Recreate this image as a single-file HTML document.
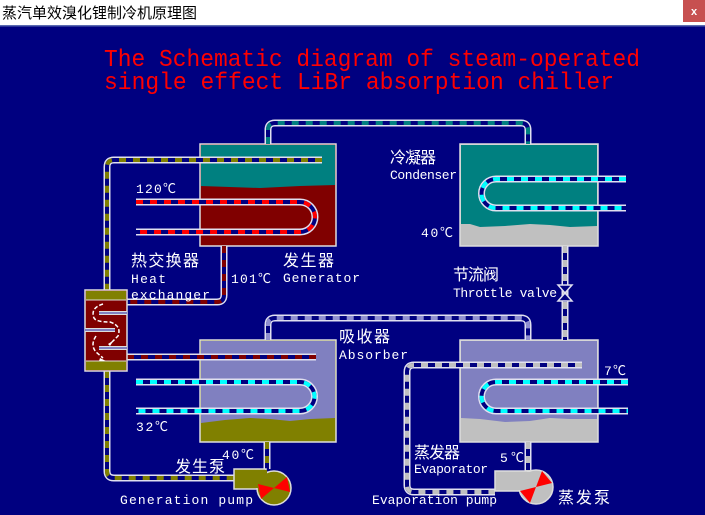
<!DOCTYPE html>
<html><head><meta charset="utf-8"><style>
html,body{margin:0;padding:0;width:705px;height:515px;overflow:hidden;background:#000080}
svg{display:block}
.t{font-family:"Liberation Mono","Noto Sans CJK SC",monospace;fill:#fff;font-size:13px}
.c{font-family:"Liberation Sans","Noto Sans CJK SC",sans-serif;fill:#fff;font-size:16px}
</style></head><body>
<svg width="705" height="515" viewBox="0 0 705 515" xmlns="http://www.w3.org/2000/svg">
<rect x="0" y="0" width="705" height="515" fill="#000080"/>
<rect x="0" y="0" width="705" height="26" fill="#fff"/>
<rect x="0" y="25" width="705" height="1.5" fill="#5a6ab0"/>
<text x="2" y="18" font-family="'Noto Sans CJK SC',sans-serif" font-size="15" fill="#000">蒸汽单效溴化锂制冷机原理图</text>
<rect x="683" y="0" width="22" height="22" fill="#c75050"/>
<text x="694" y="15" font-family="'Liberation Sans',sans-serif" font-size="11" font-weight="bold" fill="#fff" text-anchor="middle">x</text>
<g font-family="'Liberation Mono',monospace" font-size="24" fill="#ff0000">
<text x="104" y="66" textLength="536" lengthAdjust="spacingAndGlyphs">The Schematic diagram of steam-operated</text>
<text x="104" y="89" textLength="510" lengthAdjust="spacingAndGlyphs">single effect LiBr absorption chiller</text>
</g>

<rect x="200" y="144" width="136" height="102" fill="#800000" stroke="#ddd" stroke-width="1.5"/>
<path d="M201 145 H335 V185 L300 186 L260 188 L230 187 L201 186 Z" fill="#008080"/>
<rect x="460" y="144" width="138" height="102" fill="#c0c0c0" stroke="#ddd" stroke-width="1.5"/>
<path d="M461 145 H597 V226 L570 227 L550 225 L530 224 L505 226 L480 227 L470 224 L461 224 Z" fill="#008080"/>
<rect x="200" y="340" width="136" height="102" fill="#808000" stroke="#ddd" stroke-width="1.5"/>
<path d="M201 341 H335 V418 L310 419 L290 421 L270 419 L250 418 L225 420 L201 423 Z" fill="#8080c0"/>
<rect x="460" y="340" width="138" height="102" fill="#c0c0c0" stroke="#ddd" stroke-width="1.5"/>
<path d="M461 341 H597 V419 L570 419 L550 418 L530 421 L505 422 L480 419 L461 418 Z" fill="#8080c0"/>

<g fill="none" stroke-linecap="butt" stroke-linejoin="round">
<g stroke="#e0e0f0" stroke-width="7">
<path d="M268 144 V130 Q268 123 275 123 H521 Q528 123 528 130 V144"/>
<path d="M322 160 H114 Q107 160 107 167 V290"/>
<path d="M136 202 H300 A15 15 0 0 1 300 232 H136"/>
<path d="M224 246 V295 Q224 302 217 302 H127"/>
<path d="M127 357 H316"/>
<path d="M107 371 V471 Q107 478 114 478 H234"/>
<path d="M267 442 V469"/>
<path d="M136 382 H300 A14.5 14.5 0 0 1 300 411 H136"/>
<path d="M626 179 H496 A14.5 14.5 0 0 0 496 208 H626"/>
<path d="M565 246 V340"/>
<path d="M268 340 V325 Q268 318 275 318 H521 Q528 318 528 325 V340"/>
<path d="M582 365 H414 Q407 365 407 372 V485 Q407 492 414 492 H495"/>
<path d="M528 442 V471"/>
<path d="M628 382 H496 A14.5 14.5 0 0 0 496 411 H628"/>
</g>
<g stroke="#000080" stroke-width="4">
<path d="M268 144 V130 Q268 123 275 123 H521 Q528 123 528 130 V144"/>
<path d="M322 160 H114 Q107 160 107 167 V290"/>
<path d="M136 202 H300 A15 15 0 0 1 300 232 H136"/>
<path d="M224 246 V295 Q224 302 217 302 H127"/>
<path d="M127 357 H316"/>
<path d="M107 371 V471 Q107 478 114 478 H234"/>
<path d="M267 442 V469"/>
<path d="M136 382 H300 A14.5 14.5 0 0 1 300 411 H136"/>
<path d="M626 179 H496 A14.5 14.5 0 0 0 496 208 H626"/>
<path d="M565 246 V340"/>
<path d="M268 340 V325 Q268 318 275 318 H521 Q528 318 528 325 V340"/>
<path d="M582 365 H414 Q407 365 407 372 V485 Q407 492 414 492 H495"/>
<path d="M528 442 V471"/>
<path d="M628 382 H496 A14.5 14.5 0 0 0 496 411 H628"/>
</g>
<g stroke-width="4" stroke-dasharray="7 7">
<path stroke="#008080" d="M268 144 V130 Q268 123 275 123 H521 Q528 123 528 130 V144"/>
<path stroke="#808000" d="M322 160 H114 Q107 160 107 167 V290"/>
<path stroke="#ff0000" d="M136 202 H300 A15 15 0 0 1 300 232 H136"/>
<path stroke="#800000" d="M224 246 V295 Q224 302 217 302 H127"/>
<path stroke="#800000" d="M127 357 H316"/>
<path stroke="#808000" d="M107 371 V471 Q107 478 114 478 H234"/>
<path stroke="#808000" d="M267 442 V469"/>
<path stroke="#00ffff" d="M136 382 H300 A14.5 14.5 0 0 1 300 411 H136"/>
<path stroke="#00ffff" d="M626 179 H496 A14.5 14.5 0 0 0 496 208 H626"/>
<path stroke="#c0c0c0" d="M565 246 V340"/>
<path stroke="#9090d0" d="M268 340 V325 Q268 318 275 318 H521 Q528 318 528 325 V340"/>
<path stroke="#c0c0c0" d="M582 365 H414 Q407 365 407 372 V485 Q407 492 414 492 H495"/>
<path stroke="#c0c0c0" d="M528 442 V471"/>
<path stroke="#00ffff" d="M628 382 H496 A14.5 14.5 0 0 0 496 411 H628"/>
</g>
</g>

<path d="M558 285 H572 L558 301 H572 Z" fill="#000080" stroke="#e0e0f0" stroke-width="1.5"/>

<rect x="85" y="290" width="42" height="81" fill="#800000" stroke="#ddd" stroke-width="1.5"/>
<rect x="86" y="291" width="40" height="9" fill="#808000"/>
<rect x="86" y="361" width="40" height="9" fill="#808000"/>
<line x1="86" y1="300" x2="126" y2="300" stroke="#ddd"/>
<line x1="86" y1="361" x2="126" y2="361" stroke="#ddd"/>
<g stroke="#ddd" stroke-width="4"><line x1="99" y1="313" x2="127" y2="313"/><line x1="85" y1="330" x2="115" y2="330"/><line x1="99" y1="348" x2="127" y2="348"/></g>
<g stroke="#8080c0" stroke-width="2"><line x1="99" y1="313" x2="127" y2="313"/><line x1="85" y1="330" x2="115" y2="330"/><line x1="99" y1="348" x2="127" y2="348"/></g>
<path d="M103 304 Q90 308 94 318 Q96 322 110 322 Q122 326 118 336 L112 342 M96 336 Q90 345 96 352 L103 358" fill="none" stroke="#fff" stroke-width="1.5" stroke-dasharray="4 2"/>
<path d="M108 344 L114 340 L110 346 Z M100 358 L106 361 L99 361 Z" fill="#fff"/>

<rect x="234" y="469" width="32" height="20" fill="#808000" stroke="#ddd" stroke-width="1.5"/>
<circle cx="274" cy="488" r="17" fill="#808000" stroke="#ddd" stroke-width="1.5"/>
<rect x="235" y="470" width="32" height="18" fill="#808000"/>
<path d="M274 488 L287 477 L290 492 Z M274 488 L261 499 L258 484 Z" fill="#ff0000"/>
<rect x="495" y="471" width="36" height="20" fill="#c0c0c0" stroke="#ddd" stroke-width="1.5"/>
<circle cx="536" cy="487" r="17" fill="#c0c0c0" stroke="#ddd" stroke-width="1.5"/>
<rect x="496" y="472" width="36" height="18" fill="#c0c0c0"/>
<path d="M536 487 L542 471 L552 483 Z M536 487 L530 503 L520 491 Z" fill="#ff0000"/>

<text class="t" x="136" y="193" textLength="40">120℃</text>
<text class="c" x="131" y="266" textLength="68">热交换器</text>
<text class="t" x="131" y="283" textLength="35">Heat</text>
<text class="t" x="131" y="299" textLength="79">exchanger</text>
<text class="t" x="231" y="283" textLength="40">101℃</text>
<text class="c" x="283" y="266" textLength="51">发生器</text>
<text class="t" x="283" y="282" textLength="77">Generator</text>
<text class="c" x="390" y="163" textLength="46">冷凝器</text>
<text class="t" x="390" y="179" textLength="67">Condenser</text>
<text class="t" x="421" y="237" textLength="32">40℃</text>
<text class="c" x="453" y="280" textLength="46">节流阀</text>
<text class="t" x="453" y="297" textLength="104">Throttle valve</text>
<text class="c" x="339" y="342" textLength="51">吸收器</text>
<text class="t" x="339" y="359" textLength="69">Absorber</text>
<text class="t" x="604" y="375" textLength="22">7℃</text>
<text class="t" x="136" y="431" textLength="32">32℃</text>
<text class="t" x="222" y="459" textLength="32">40℃</text>
<text class="c" x="414" y="458" textLength="46">蒸发器</text>
<text class="t" x="414" y="473" textLength="74">Evaporator</text>
<text class="t" x="500" y="462" textLength="24">5℃</text>
<text class="c" x="175" y="472" textLength="50">发生泵</text>
<text class="t" x="120" y="504" textLength="133">Generation pump</text>
<text class="t" x="372" y="504" textLength="125">Evaporation pump</text>
<text class="c" x="558" y="503" textLength="52">蒸发泵</text>
</svg>
</body></html>
